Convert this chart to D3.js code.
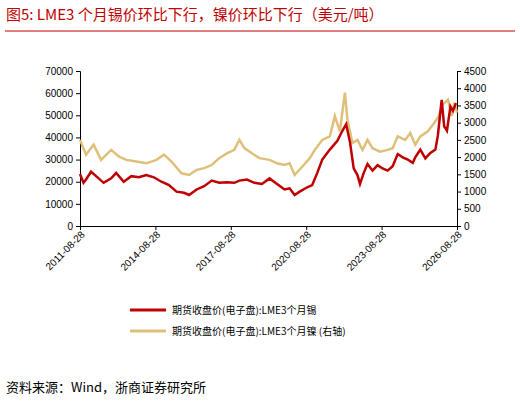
<!doctype html>
<html><head><meta charset="utf-8">
<script src="https://cdnjs.cloudflare.com/ajax/libs/d3/7.8.5/d3.min.js"></script>
<style>
body{margin:0;background:#fff;font-family:"Liberation Sans",Arial,sans-serif;}
.t{font-family:"Noto Sans CJK SC","Liberation Serif",serif;}
</style></head><body>
<svg id="c" width="520" height="402"></svg>
<script>
// tin (left axis), [year, value]
var tin = [[2011.66,23500],[2011.8,19500],[2011.9,21000],[2012.1,24500],[2012.3,22500],[2012.6,19500],[2012.9,21500],[2013.1,24000],[2013.4,20000],[2013.7,22500],[2014.0,22000],[2014.3,23000],[2014.6,22000],[2014.9,20000],[2015.2,18500],[2015.5,15500],[2015.8,15000],[2016.0,14000],[2016.3,16500],[2016.6,18000],[2016.9,20500],[2017.2,19500],[2017.5,19800],[2017.8,19500],[2018.0,20500],[2018.3,21000],[2018.6,19500],[2018.9,19000],[2019.2,21500],[2019.5,19000],[2019.8,16500],[2020.0,17000],[2020.2,14000],[2020.4,15500],[2020.7,17500],[2020.9,18500],[2021.1,24000],[2021.3,30000],[2021.6,34500],[2021.9,38500],[2022.1,43000],[2022.25,46000],[2022.4,38000],[2022.55,26000],[2022.7,23000],[2022.8,19000],[2022.95,24000],[2023.1,28000],[2023.3,25000],[2023.5,27500],[2023.7,26000],[2023.9,25000],[2024.1,27000],[2024.3,32500],[2024.5,31000],[2024.7,30000],[2024.9,28500],[2025.0,31000],[2025.2,34500],[2025.4,30500],[2025.6,33000],[2025.8,34500],[2025.9,41000],[2026.05,57000],[2026.15,45000],[2026.26,43000],[2026.4,54000],[2026.5,52000],[2026.62,55500]];
// nickel (right axis)
var nickel = [[2011.66,2500],[2011.9,2070],[2012.2,2360],[2012.5,1920],[2012.9,2210],[2013.2,2020],[2013.5,1920],[2013.9,1870],[2014.3,1820],[2014.7,1920],[2015.0,2070],[2015.3,1870],[2015.7,1530],[2016.0,1480],[2016.3,1630],[2016.6,1680],[2016.9,1770],[2017.2,1970],[2017.5,2110],[2017.8,2210],[2018.0,2500],[2018.2,2260],[2018.5,2110],[2018.8,1970],[2019.2,1920],[2019.5,1820],[2019.8,1770],[2020.0,1820],[2020.2,1480],[2020.5,1720],[2020.8,1970],[2021.0,2210],[2021.3,2500],[2021.6,2600],[2021.8,3190],[2022.0,2750],[2022.2,3870],[2022.3,3090],[2022.5,2410],[2022.7,2500],[2022.9,2210],[2023.1,2500],[2023.3,2260],[2023.6,2160],[2023.9,2210],[2024.1,2260],[2024.3,2600],[2024.6,2500],[2024.8,2700],[2025.0,2360],[2025.2,2600],[2025.5,2750],[2025.7,2940],[2025.9,3140],[2026.1,3530],[2026.3,3670],[2026.45,3190],[2026.55,3580],[2026.66,3290]];
var xTicks = ["2011-08-28","2014-08-28","2017-08-28","2020-08-28","2023-08-28","2026-08-28"];
var leftTicks = [0,10000,20000,30000,40000,50000,60000,70000];
var rightTicks = [0,500,1000,1500,2000,2500,3000,3500,4000,4500];
var names = ["期货收盘价(电子盘):LME3个月锡","期货收盘价(电子盘):LME3个月镍 (右轴)"];

var svg = d3.select("#c");
var red = "#c00000", gold = "#dfc07a";
var x = d3.scaleLinear().domain([2011.66,2026.66]).range([80,457]);
var yl = d3.scaleLinear().domain([0,70000]).range([226,71]);
var yr = d3.scaleLinear().domain([0,4500]).range([226,71]);

svg.append("text").attr("class","t").attr("x",6).attr("y",20).attr("fill",red)
  .attr("font-size",15).text("图5:   LME3 个月锡价环比下行，镍价环比下行（美元/吨）");
svg.append("line").attr("x1",5).attr("x2",515).attr("y1",31).attr("y2",31).attr("stroke",red).attr("stroke-width",1);

var fmt = function(d){ return d3.format("d")(d); };
svg.append("g").attr("transform","translate(80,0)")
  .call(d3.axisLeft(yl).tickValues(leftTicks).tickFormat(fmt).tickSize(4))
  .call(g=>g.selectAll("text").attr("font-size",10).attr("fill","#000"));
svg.append("g").attr("transform","translate(457,0)")
  .call(d3.axisRight(yr).tickValues(rightTicks).tickFormat(fmt).tickSize(4))
  .call(g=>g.selectAll("text").attr("font-size",10).attr("fill","#000"));
var xa = svg.append("g").attr("transform","translate(0,226)")
  .call(d3.axisBottom(x).tickValues(xTicks.map((d,i)=>2011.66+3*i)).tickFormat((d,i)=>xTicks[i]).tickSize(4));
xa.selectAll("text").attr("font-size",10).attr("fill","#000")
  .attr("text-anchor","end").attr("dx","-0.3em").attr("dy","0.3em").attr("transform","rotate(-45)");
svg.selectAll(".domain").attr("stroke","#000");
svg.selectAll(".tick line").attr("stroke","#000");

var line = function(ys){ return d3.line().x(d=>x(d[0])).y(d=>ys(d[1])); };
svg.append("path").datum(nickel).attr("d",line(yr)).attr("fill","none").attr("stroke",gold).attr("stroke-width",2.5);
svg.append("path").datum(tin).attr("d",line(yl)).attr("fill","none").attr("stroke",red).attr("stroke-width",2.5);

[red,gold].forEach(function(c,i){
  var yy = 310 + i*21;
  svg.append("line").attr("x1",130).attr("x2",166).attr("y1",yy).attr("y2",yy).attr("stroke",c).attr("stroke-width",3);
  svg.append("text").attr("class","t").attr("x",172).attr("y",yy+3.5).attr("font-size",10).text(names[i]);
});
svg.append("text").attr("class","t").attr("x",6).attr("y",392).attr("font-size",13).text("资料来源：Wind，浙商证券研究所");
</script></body></html>
